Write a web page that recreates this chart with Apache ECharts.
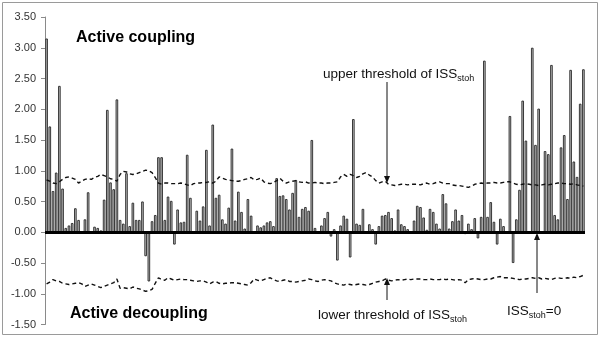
<!DOCTYPE html>
<html>
<head>
<meta charset="utf-8">
<script src="https://cdn.jsdelivr.net/npm/echarts@6/dist/echarts.min.js"></script>
<style>html,body{margin:0;padding:0;background:#fff}#c{width:600px;height:338px}</style>
</head>
<body>
<div id="c"></div>
<script>
// ISS_stoh values per period
const issValues = [
3.15,1.72,0.67,0.97,2.38,0.71,0.07,0.11,0.15,0.39,0.20,0.00,0.21,0.65,0.00,0.09,0.07,0.03,0.53,1.99,
0.81,0.70,2.16,0.20,0.14,0.96,0.10,0.48,0.20,0.20,0.50,-0.39,-0.80,0.18,0.28,1.22,1.22,0.20,0.58,0.51,
-0.20,0.37,0.16,0.17,1.26,0.56,0.00,0.35,0.19,0.42,1.34,0.11,1.75,0.56,0.61,0.21,0.14,0.40,1.36,0.19,
0.66,0.33,0.06,0.54,0.27,0.00,0.11,0.08,0.11,0.16,0.18,0.10,0.88,0.59,0.60,0.54,0.37,0.64,0.85,0.25,
0.38,0.41,0.35,1.50,0.07,0.00,0.11,0.23,0.33,-0.07,0.05,-0.46,0.11,0.27,0.22,-0.41,1.84,0.14,0.12,0.38,
0.00,0.13,0.05,-0.20,0.10,0.27,0.28,0.33,0.23,0.03,0.37,0.13,0.10,0.05,0.00,0.19,0.43,0.41,0.24,0.04,
0.38,0.33,0.14,0.06,0.62,0.47,0.06,0.18,0.37,0.19,0.28,-0.03,0.14,0.05,0.23,-0.10,0.25,2.79,0.25,0.49,
0.17,-0.20,0.22,0.10,0.00,1.89,-0.50,0.21,0.69,2.14,1.49,0.00,3.00,1.42,2.01,0.00,1.32,1.27,2.72,0.28,
0.21,1.38,1.58,0.54,2.64,1.15,0.90,2.09,2.65
];
// upper threshold of ISS_stoh
const upperThreshold = [
0.85,0.83,0.80,0.79,0.82,0.86,0.89,0.90,0.88,0.86,0.80,0.83,0.86,0.87,0.86,0.89,0.91,0.94,0.92,0.90,
0.87,0.86,0.83,0.94,0.99,0.98,0.95,0.94,0.95,0.97,0.99,1.01,1.00,0.97,0.89,0.80,0.78,0.80,0.80,0.79,
0.79,0.79,0.80,0.79,0.77,0.76,0.79,0.80,0.80,0.81,0.81,0.82,0.80,0.83,0.90,0.88,0.86,0.85,0.84,0.83,
0.83,0.84,0.86,0.87,0.89,0.85,0.86,0.88,0.82,0.80,0.79,0.81,0.84,0.88,0.83,0.80,0.82,0.83,0.84,0.82,
0.81,0.82,0.80,0.80,0.81,0.80,0.80,0.79,0.80,0.80,0.81,0.82,0.90,0.94,0.91,0.94,0.92,0.89,0.91,0.95,
0.97,0.93,0.90,0.84,0.80,0.82,0.83,0.78,0.77,0.76,0.77,0.78,0.78,0.77,0.78,0.78,0.78,0.77,0.79,0.80,
0.78,0.79,0.81,0.82,0.80,0.79,0.79,0.77,0.76,0.76,0.75,0.74,0.73,0.75,0.78,0.79,0.80,0.79,0.80,0.80,
0.81,0.80,0.80,0.81,0.82,0.82,0.80,0.78,0.77,0.78,0.79,0.78,0.77,0.77,0.76,0.77,0.78,0.77,0.78,0.79,
0.80,0.80,0.79,0.79,0.78,0.79,0.77,0.76,0.75
];
// lower threshold of ISS_stoh
const lowerThreshold = [
-0.84,-0.81,-0.77,-0.79,-0.80,-0.83,-0.84,-0.85,-0.84,-0.83,-0.82,-0.84,-0.88,-0.86,-0.84,-0.86,-0.88,-0.90,-0.88,-0.86,
-0.84,-0.82,-0.76,-0.91,-0.90,-0.91,-0.92,-0.89,-0.91,-0.92,-0.94,-0.96,-0.95,-0.93,-0.83,-0.74,-0.77,-0.78,-0.74,-0.76,
-0.78,-0.77,-0.76,-0.77,-0.77,-0.78,-0.79,-0.80,-0.79,-0.79,-0.81,-0.84,-0.81,-0.80,-0.83,-0.84,-0.83,-0.83,-0.82,-0.82,
-0.83,-0.84,-0.85,-0.86,-0.82,-0.76,-0.78,-0.79,-0.77,-0.75,-0.74,-0.77,-0.79,-0.80,-0.78,-0.77,-0.80,-0.80,-0.81,-0.80,
-0.79,-0.78,-0.76,-0.77,-0.79,-0.80,-0.78,-0.77,-0.78,-0.79,-0.82,-0.84,-0.85,-0.86,-0.84,-0.85,-0.86,-0.85,-0.84,-0.85,
-0.86,-0.85,-0.83,-0.81,-0.80,-0.79,-0.76,-0.78,-0.79,-0.78,-0.77,-0.78,-0.77,-0.76,-0.77,-0.76,-0.76,-0.76,-0.77,-0.77,
-0.76,-0.77,-0.77,-0.77,-0.76,-0.77,-0.76,-0.77,-0.78,-0.77,-0.78,-0.82,-0.77,-0.76,-0.75,-0.76,-0.77,-0.77,-0.76,-0.76,
-0.74,-0.73,-0.72,-0.74,-0.74,-0.74,-0.75,-0.76,-0.77,-0.76,-0.76,-0.75,-0.74,-0.75,-0.74,-0.76,-0.75,-0.76,-0.77,-0.75,
-0.74,-0.75,-0.75,-0.74,-0.75,-0.73,-0.74,-0.72,-0.70
];
const categories = issValues.map((_, i) => String(i + 1));
const yMin = -1.5, yMax = 3.5, yStep = 0.5;

const chart = echarts.init(document.getElementById('c'), null, {renderer: 'canvas'});
const FONT = 'Liberation Sans, Arial, sans-serif';
const sub = {fontSize: 9, fontFamily: FONT, fill: '#111', padding: [8, 0, 0, 0]};
const main = {fontSize: 13.5, fontFamily: FONT, fill: '#111'};

function arrow(x, y1, y2) {
  const dir = y2 > y1 ? 1 : -1;
  return [
    {type: 'line', shape: {x1: x, y1: y1, x2: x, y2: y2 - dir * 2}, style: {stroke: '#111', lineWidth: 1}, z: 100},
    {type: 'polygon', shape: {points: [[x, y2], [x - 3, y2 - dir * 7], [x + 3, y2 - dir * 7]]}, style: {fill: '#111'}, z: 100}
  ];
}

chart.setOption({
  animation: false,
  backgroundColor: '#fff',
  grid: {left: 45, right: 15, top: 17, bottom: 13.5, containLabel: false},
  xAxis: {
    type: 'category', data: categories,
    axisLine: {show: false}, axisTick: {show: false}, axisLabel: {show: false}, splitLine: {show: false}
  },
  yAxis: {
    type: 'value', min: yMin, max: yMax, interval: yStep,
    axisLine: {show: true, lineStyle: {color: '#8a8a8a', width: 1}},
    axisTick: {show: true, inside: false, length: 4, lineStyle: {color: '#8a8a8a'}},
    splitLine: {show: false},
    axisLabel: {formatter: v => v.toFixed(2), color: '#333', fontSize: 11, fontFamily: FONT, margin: 9}
  },
  series: [
    {
      type: 'bar', data: issValues, barCategoryGap: '20%',
      itemStyle: {color: '#c0c0c0', borderColor: '#262626', borderWidth: 0.9},
      markLine: {
        silent: true, symbol: 'none', label: {show: false},
        lineStyle: {color: '#000', width: 3, type: 'solid'},
        data: [{yAxis: 0}], z: 20
      },
      z: 2
    },
    {
      type: 'line', data: upperThreshold, symbol: 'none',
      lineStyle: {color: '#111', width: 1.4, type: [4, 3]}, z: 5
    },
    {
      type: 'line', data: lowerThreshold, symbol: 'none',
      lineStyle: {color: '#111', width: 1.4, type: [4, 3]}, z: 5
    }
  ],
  graphic: [
    {type: 'rect', shape: {x: 2.5, y: 2.5, width: 595, height: 332}, style: {fill: 'none', stroke: '#9a9a9a', lineWidth: 1}, z: 0},
    {type: 'text', x: 76, y: 38, style: {text: 'Active coupling', fontSize: 16, fontWeight: 'bold', fontFamily: FONT, fill: '#000', verticalAlign: 'middle'}, z: 100},
    {type: 'text', x: 70, y: 314, style: {text: 'Active decoupling', fontSize: 16, fontWeight: 'bold', fontFamily: FONT, fill: '#000', verticalAlign: 'middle'}, z: 100},
    {type: 'text', x: 323, y: 66, style: {text: '{a|upper threshold of ISS}{b|stoh}', rich: {a: main, b: sub}}, z: 100},
    {type: 'text', x: 318, y: 307, style: {text: '{a|lower threshold of ISS}{b|stoh}', rich: {a: main, b: sub}}, z: 100},
    {type: 'text', x: 507, y: 303, style: {text: '{a|ISS}{b|stoh}{a|=0}', rich: {a: main, b: sub}}, z: 100},
    ...arrow(387, 82, 183),
    ...arrow(387, 300, 278),
    ...arrow(537, 293, 233)
  ]
});
</script>
</body>
</html>
